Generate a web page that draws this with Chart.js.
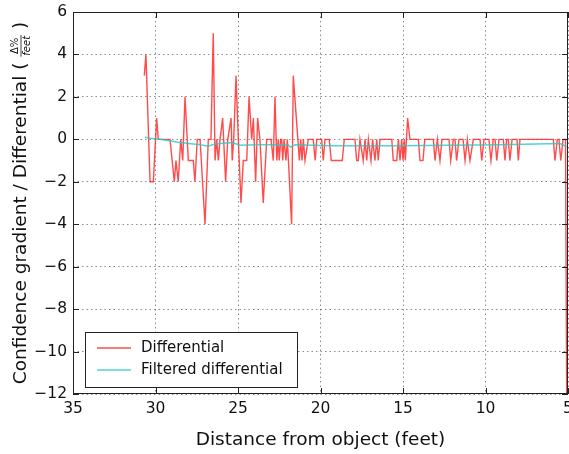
<!DOCTYPE html>
<html>
<head>
<meta charset="utf-8">
<script src="https://cdn.jsdelivr.net/npm/chart.js@4.4.1/dist/chart.umd.min.js"></script>
<style>
  html, body { margin: 0; padding: 0; background: #fff; }
  canvas { display: block; }
</style>
</head>
<body>
<canvas id="diffChart" width="569" height="454"></canvas>
<script>
// axis ticks
const xTicks = [35, 30, 25, 20, 15, 10, 5];
const yTicks = [6, 4, 2, 0, -2, -4, -6, -8, -10, -12];

// red "Differential" line (feet, value)
const diffDistance = [
    30.68, 30.58, 30.33, 30.13, 29.93, 29.83, 29.12, 28.86, 28.76, 28.62,
    28.47, 28.35, 28.21, 28.01, 27.71, 27.61, 27.47, 27.30, 27.00, 26.80,
    26.64, 26.50, 26.39, 26.29, 26.19, 26.09, 25.93, 25.75, 25.62, 25.42,
    25.35, 25.26, 25.12, 24.98, 24.82, 24.68, 24.47, 24.33, 24.17, 24.07,
    23.93, 23.81, 23.67, 23.47, 23.26, 23.00, 22.86, 22.76, 22.65, 22.56,
    22.50, 22.41, 22.35, 22.29, 22.21, 22.09, 22.01, 21.75, 21.65, 21.28,
    21.20, 21.12, 21.04, 20.94, 20.74, 20.44, 20.32, 20.23, 19.93, 19.83,
    19.73, 19.47, 19.35, 18.68, 18.56, 17.91, 17.81, 17.71, 17.61, 17.41,
    17.30, 17.20, 17.10, 16.94, 16.84, 16.70, 16.59, 16.50, 16.39, 15.68,
    15.59, 15.38, 15.28, 15.18, 15.08, 15.00, 14.92, 14.86, 14.72, 14.58,
    14.07, 13.97, 13.79, 13.68, 13.16, 13.06, 12.92, 12.76, 12.64, 12.21,
    12.11, 11.95, 11.85, 11.75, 11.61, 11.36, 11.24, 11.10, 10.94, 10.74,
    10.33, 10.23, 10.09, 9.79, 9.67, 9.53, 9.42, 9.32, 9.18, 8.92,
    8.82, 8.72, 8.62, 8.52, 8.39, 8.09, 8.01, 7.91, 5.89, 5.79,
    5.65, 5.55, 5.44, 5.30, 5.15, 5.08
];
const diffValue = [
    3, 4, -2, -2, 1, 0, 0, -2, -1, -2,
    0, -1, 2, -1, -1, -2, 0, 0, -4, 0,
    0, 5, -1, 0, -1, 0, 1, -2, 0, 1,
    -1, 0, 3, 0, -3, -1, -1, 2, 0, 1,
    -2, 1, 0, -3, 0, 0, -1, 2, -1, 0,
    -1, 0, 0, -1, 0, -1, 0, -4, 3, -1,
    0, -1, 0, -1, 0, 0, -1, 0, 0, -1,
    0, 0, -1, -1, 0, 0, -1, -1, 0, -1,
    0, -1, 0, -1, 0, -1, 0, -1, 0, 0,
    -1, -1, 0, -1, 0, -1, 0, -1, 1, 0,
    0, -1, -1, 0, 0, -1, 0, -1, 0, 0,
    -1, 0, 0, -1, 0, 0, -1, 0, -1, 0,
    0, -1, 0, 0, -1, 0, 0, -1, 0, 0,
    -1, 0, 0, -1, 0, 0, -1, 0, 0, -1,
    0, 0, -1, 0, 0, -12
];

// cyan "Filtered differential" line
const filtDistance = [30.64, 30.33, 29.73, 28.52, 27.30, 26.82, 26.39, 25.36, 24.88, 23.67,
    21.97, 21.79, 21.55, 19.42, 15.18, 9.12, 5.48, 5.08];
const filtValue = [0.1, 0.05, 0.0, -0.15, -0.25, -0.33, -0.22, -0.15, -0.28, -0.25,
    -0.25, -0.38, -0.25, -0.3, -0.3, -0.25, -0.2, -0.35];

const seriesNames = ['Differential', 'Filtered differential'];
const seriesColors = ['rgba(255, 30, 30, 0.8)', 'rgba(40, 200, 200, 0.8)'];

const FONT = '"DejaVu Sans", sans-serif';

function toPoints(xs, ys) {
    return xs.map(function (x, i) { return { x: x, y: ys[i] }; });
}

const framePlugin = {
    id: 'frame',
    afterDraw: function (chart) {
        const ctx = chart.ctx;
        const a = chart.chartArea;
        const xs = chart.scales.x;
        const ys = chart.scales.y;
        ctx.save();

        // box round the plot
        ctx.strokeStyle = '#222';
        ctx.lineWidth = 1;
        ctx.strokeRect(a.left + 0.5, a.top + 0.5, a.right - a.left - 1, a.bottom - a.top - 1);

        // ticks pointing inwards, on all four sides
        ctx.beginPath();
        xTicks.forEach(function (t) {
            const px = Math.round(xs.getPixelForValue(t)) + 0.5;
            ctx.moveTo(px, a.bottom); ctx.lineTo(px, a.bottom - 6);
            ctx.moveTo(px, a.top); ctx.lineTo(px, a.top + 6);
        });
        yTicks.forEach(function (t) {
            const py = Math.round(ys.getPixelForValue(t)) + 0.5;
            ctx.moveTo(a.left, py); ctx.lineTo(a.left + 6, py);
            ctx.moveTo(a.right, py); ctx.lineTo(a.right - 6, py);
        });
        ctx.stroke();

        // legend, lower left inside the plot
        const lx = a.left + 12, ly = a.bottom - 62, lw = 212, lh = 55;
        ctx.fillStyle = '#fff';
        ctx.fillRect(lx, ly, lw, lh);
        ctx.strokeStyle = '#222';
        ctx.strokeRect(lx + 0.5, ly + 0.5, lw, lh);
        ctx.font = '15px ' + FONT;
        ctx.textBaseline = 'middle';
        ctx.textAlign = 'left';
        seriesNames.forEach(function (name, i) {
            const yy = ly + 16 + i * 22;
            ctx.strokeStyle = seriesColors[i];
            ctx.lineWidth = 1.4;
            ctx.beginPath();
            ctx.moveTo(lx + 12, yy); ctx.lineTo(lx + 46, yy);
            ctx.stroke();
            ctx.fillStyle = '#111';
            ctx.fillText(name, lx + 56, yy);
        });

        // x title
        ctx.font = '18.5px ' + FONT;
        ctx.textAlign = 'center';
        ctx.textBaseline = 'middle';
        ctx.fillStyle = '#111';
        ctx.fillText('Distance from object (feet)', (a.left + a.right) / 2, 440);

        // y title with a small fraction
        const main = 'Confidence gradient / Differential ( ';
        ctx.font = '18.5px ' + FONT;
        const wMain = ctx.measureText(main).width;
        const wClose = ctx.measureText(' )').width;
        ctx.font = '10px ' + FONT;
        const wNum = ctx.measureText('\u0394%').width;
        ctx.font = 'italic 10px ' + FONT;
        const wDen = ctx.measureText('feet').width;
        const wFrac = Math.max(wNum, wDen) + 2;
        const total = wMain + wFrac + wClose;

        ctx.translate(21, (a.top + a.bottom) / 2);
        ctx.rotate(-Math.PI / 2);
        let x = -total / 2;
        ctx.textAlign = 'left';
        ctx.font = '18.5px ' + FONT;
        ctx.fillText(main, x, 0);
        x += wMain;
        ctx.font = '10px ' + FONT;
        ctx.textAlign = 'center';
        ctx.fillText('\u0394%', x + wFrac / 2, -6);
        ctx.font = 'italic 10px ' + FONT;
        ctx.fillText('feet', x + wFrac / 2, 6);
        ctx.strokeStyle = '#111';
        ctx.lineWidth = 0.8;
        ctx.beginPath();
        ctx.moveTo(x, 0); ctx.lineTo(x + wFrac, 0);
        ctx.stroke();
        x += wFrac;
        ctx.textAlign = 'left';
        ctx.font = '18.5px ' + FONT;
        ctx.fillText(' )', x, 0);

        ctx.restore();
    }
};

const ctx = document.getElementById('diffChart');

new Chart(ctx, {
    type: 'line',
    data: {
        datasets: [{
            label: seriesNames[0],
            data: toPoints(diffDistance, diffValue),
            borderColor: seriesColors[0],
            borderWidth: 1.4,
            pointRadius: 0,
            tension: 0,
            fill: false,
            order: 1
        }, {
            label: seriesNames[1],
            data: toPoints(filtDistance, filtValue),
            borderColor: seriesColors[1],
            borderWidth: 1.5,
            pointRadius: 0,
            tension: 0,
            fill: false,
            order: 0
        }]
    },
    options: {
        responsive: false,
        animation: false,
        devicePixelRatio: 1,
        layout: { padding: { top: 12, right: 1, left: 0, bottom: 0 } },
        plugins: {
            legend: { display: false },
            tooltip: { enabled: false }
        },
        scales: {
            x: {
                type: 'linear',
                reverse: true,
                min: 5,
                max: 35,
                afterBuildTicks: function (scale) {
                    scale.ticks = xTicks.map(function (v) { return { value: v }; });
                },
                ticks: {
                    color: '#111',
                    font: { family: FONT, size: 15.5 },
                    padding: 6,
                    maxRotation: 0
                },
                grid: {
                    color: 'rgba(0,0,0,0.45)',
                    lineWidth: 1,
                    drawTicks: false
                },
                border: { display: false, dash: [1.5, 3] },
                afterFit: function (scale) {
                    scale.height = 60;
                    scale.paddingLeft = 0;
                    scale.paddingRight = 0;
                }
            },
            y: {
                type: 'linear',
                min: -12,
                max: 6,
                afterBuildTicks: function (scale) {
                    scale.ticks = yTicks.slice().reverse().map(function (v) { return { value: v }; });
                },
                ticks: {
                    color: '#111',
                    font: { family: FONT, size: 15.5 },
                    padding: 6,
                    callback: function (v) { return String(v).replace('-', '\u2212'); }
                },
                grid: {
                    color: 'rgba(0,0,0,0.45)',
                    lineWidth: 1,
                    drawTicks: false
                },
                border: { display: false, dash: [1.5, 3] },
                afterFit: function (scale) {
                    scale.width = 73;
                    scale.paddingTop = 0;
                    scale.paddingBottom = 0;
                }
            }
        }
    },
    plugins: [framePlugin]
});
</script>
</body>
</html>
